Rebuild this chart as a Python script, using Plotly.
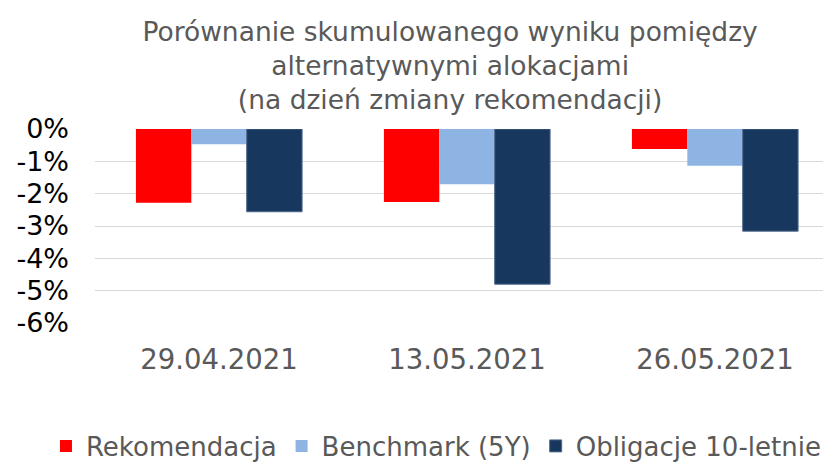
import plotly.graph_objects as go

categories = ["29.04.2021", "13.05.2021", "26.05.2021"]
rekomendacja = [-0.0228, -0.0226, -0.0062]
benchmark_5y = [-0.0047, -0.0171, -0.0114]
obligacje_10 = [-0.0256, -0.0480, -0.0316]
y_ticks = [0, -0.01, -0.02, -0.03, -0.04, -0.05, -0.06]
y_tick_labels = ["0%", "-1%", "-2%", "-3%", "-4%", "-5%", "-6%"]

FONT = "DejaVu Sans"
GRAY = "#595959"

fig = go.Figure()
fig.add_trace(go.Bar(name="Rekomendacja", x=categories, y=rekomendacja,
                     marker=dict(color="#FF0000", line=dict(width=0))))
fig.add_trace(go.Bar(name="Benchmark (5Y)", x=categories, y=benchmark_5y,
                     marker=dict(color="#8EB4E3", line=dict(width=0))))
fig.add_trace(go.Bar(name="Obligacje 10-letnie", x=categories, y=obligacje_10,
                     marker=dict(color="#17375E", line=dict(width=1, color="#4F6A8C"))))

fig.update_layout(
    width=831, height=465,
    margin=dict(l=87, r=0, t=121, b=150, autoexpand=False),
    paper_bgcolor="white", plot_bgcolor="white",
    barmode="group", bargap=0.33, bargroupgap=0,
    font=dict(family=FONT, color=GRAY),
    title=dict(
        text="Porównanie skumulowanego wyniku pomiędzy<br>alternatywnymi alokacjami<br>(na dzień zmiany rekomendacji)",
        x=0.532, xanchor="center", xref="container",
        y=0.93, yanchor="top", yref="container",
        font=dict(family=FONT, size=26.5, color=GRAY),
    ),
    legend=dict(
        orientation="h", xref="paper", yref="paper",
        x=-0.0659, xanchor="left", y=-0.634, yanchor="middle",
        font=dict(family=FONT, size=26, color=GRAY),
        itemwidth=30, traceorder="normal",
    ),
    xaxis=dict(
        type="category", range=[-0.5, 2.5],
        showgrid=False, showline=False, zeroline=False, ticks="",
        tickfont=dict(family=FONT, size=27.5, color=GRAY),
        ticklabelstandoff=17,
    ),
    xaxis2=dict(
        overlaying="x", side="top", anchor="y", type="linear",
        range=[-0.5, 2.5], tickvals=[-0.5, 0.5, 1.5, 2.5],
        ticks="inside", ticklen=7, tickcolor="#D9D9D9", tickwidth=1,
        showticklabels=False, showgrid=False, zeroline=False,
        showline=True, linecolor="#D9D9D9", linewidth=1,
    ),
    yaxis=dict(
        range=[-0.06, 0], tickvals=y_ticks, ticktext=y_tick_labels,
        showgrid=True, gridcolor="#D9D9D9", gridwidth=1,
        zeroline=False, showline=False, ticks="",
        tickfont=dict(family=FONT, size=27, color="#000000"),
        ticklabelstandoff=25,
    ),
)

fig.write_html("out.html")
